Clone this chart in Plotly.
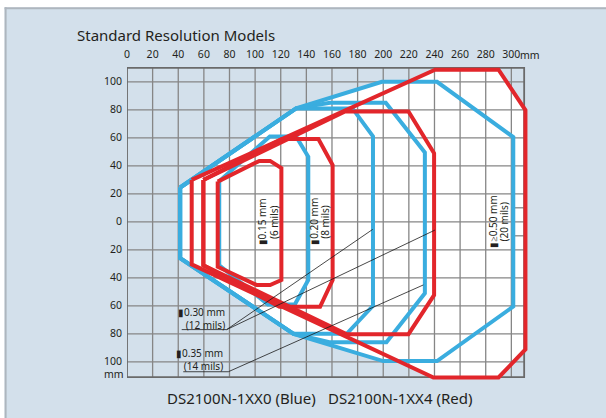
import plotly.graph_objects as go

# ---------------- data (mm) ----------------
X_TICKS = list(range(0, 301, 20))
X_TICK_TEXT = [str(v) for v in X_TICKS]
Y_TICKS = list(range(-100, 101, 20))
Y_TICK_TEXT = [str(abs(v)) for v in Y_TICKS]
X_MIN, X_MAX = 0, 310
Y_MIN, Y_MAX = -111, 110
EXTRA_GRID_Y = [10, -10]          # short grid pieces in the 300-310 column

# Blue: DS2100N-1XX0
B20_X = [72, 111.5, 132, 141.5, 141.5, 131, 110, 72, 72]
B20_Y = [29, 61, 61, 46.5, -41.5, -59, -59, -31, 29]
B30_X = [41.5, 132, 176, 192, 192, 171.5, 130, 41.5, 41.5]
B30_Y = [24.5, 81, 81, 61, -60, -80, -80, -26, 24.5]
B35_X = [41.5, 132, 158.5, 202, 232.5, 232.5, 202.5, 158, 130, 41.5, 41.5]
B35_Y = [24.5, 81, 85, 85, 49.5, -51, -86, -86, -80, -26, 24.5]
B50_X = [41.5, 132, 199, 242, 301.5, 301.5, 242, 200, 130, 41.5, 41.5]
B50_Y = [24.5, 81, 100, 100, 60.5, -60.5, -99.5, -99.5, -80, -26, 24.5]

# Red: DS2100N-1XX4
R15_X = [70.8, 103.3, 111.7, 120.5, 120.5, 111.7, 101.3, 70.8, 70.8]
R15_Y = [28.7, 43.5, 43.5, 38.3, -41.6, -45.2, -45.2, -32.1, 28.7]
R20_X = [59.6, 121, 149.4, 160.5, 160.5, 150.7, 119, 59.6, 59.6]
R20_Y = [29.9, 59.2, 59.2, 40.6, -41.6, -60.7, -60.7, -31, 29.9]
R30_X = [59.6, 170.2, 219.7, 239.7, 239.7, 219.7, 171.6, 59.6, 59.6]
R30_Y = [29.9, 78.8, 78.8, 49, -52.4, -80.3, -80.3, -31, 29.9]
R50_X = [50.5, 240.5, 290, 311, 311, 290, 239.2, 50.5, 50.5]
R50_Y = [29.9, 108.6, 108.6, 79.8, -91.2, -111.2, -111.2, -30.4, 29.9]

BLUE_SERIES = [(B20_X, B20_Y), (B30_X, B30_Y), (B35_X, B35_Y), (B50_X, B50_Y)]
RED_SERIES = [(R15_X, R15_Y), (R20_X, R20_Y), (R30_X, R30_Y), (R50_X, R50_Y)]

# rotated labels: (x line1, x line2, y, line1, line2)
ROT_LABELS = [
    (105.1, 114.2, 0, "▮0.15 mm", "(6 mils)"),
    (146.0, 154.6, 0, "▮0.20 mm", "(8 mils)"),
    (285.7, 294.0, 0, "▮≥0.50 mm", "(20 mils)"),
]
# horizontal labels with underline and leader lines
H_LABELS = [
    dict(x=77.8, y=-69.0, t1="▮0.30 mm", t2="(12 mils)",
         ux0=42.7, ux1=77.8, uy=-77.0,
         targets=[(191.8, -5.4), (240.4, -5.9)]),
    dict(x=76.5, y=-98.1, t1="▮0.35 mm", t2="(14 mils)",
         ux0=43.9, ux1=79.1, uy=-107.1,
         targets=[(231.3, -45.1)]),
]

TITLE = "Standard Resolution Models"
LEGEND_BLUE = "DS2100N-1XX0 (Blue)"
LEGEND_RED = "DS2100N-1XX4 (Red)"

# ---------------- style ----------------
W, H = 606, 418
ML, MR, MT, MB = 127, 78, 65, 38
PW, PH = W - ML - MR, H - MT - MB
BG = "#d3e0eb"
BLUE = "#3aaddf"
RED = "#e2262b"
GRID = "#868686"
FRAME = "#6a6a6a"
TXT = "#231f20"
FONT = "Noto Sans"

def px2xp(px):
    return (px - ML) / PW

def py2yp(py):
    return (MT + PH - py) / PH

fig = go.Figure()

# white fill of the outer envelopes
for xs, ys in [(B50_X, B50_Y), (R50_X, R50_Y)]:
    fig.add_trace(go.Scatter(x=xs, y=ys, mode="lines", fill="toself",
                             fillcolor="white", line=dict(width=0),
                             hoverinfo="skip", showlegend=False))

# grid
gx, gy = [], []
for v in X_TICKS[1:]:
    gx += [v, v, None]
    gy += [Y_MIN, Y_MAX, None]
for v in Y_TICKS:
    gx += [X_MIN, X_MAX, None]
    gy += [v, v, None]
for v in EXTRA_GRID_Y:
    gx += [X_TICKS[-1], X_MAX, None]
    gy += [v, v, None]
fig.add_trace(go.Scatter(x=gx, y=gy, mode="lines",
                         line=dict(color=GRID, width=1.3),
                         hoverinfo="skip", showlegend=False))
# frame
fig.add_trace(go.Scatter(x=[X_MIN, X_MAX, X_MAX, X_MIN, X_MIN],
                         y=[Y_MIN, Y_MIN, Y_MAX, Y_MAX, Y_MIN], mode="lines",
                         line=dict(color=FRAME, width=1.8),
                         hoverinfo="skip", showlegend=False))

for xs, ys in BLUE_SERIES:
    fig.add_trace(go.Scatter(x=xs, y=ys, mode="lines",
                             line=dict(color=BLUE, width=4),
                             hoverinfo="skip", showlegend=False))
for xs, ys in RED_SERIES:
    fig.add_trace(go.Scatter(x=xs, y=ys, mode="lines",
                             line=dict(color=RED, width=4),
                             hoverinfo="skip", showlegend=False))

# underline + leaders
for lab in H_LABELS:
    lx, ly = [lab["ux0"], lab["ux1"], None], [lab["uy"], lab["uy"], None]
    for tx, ty in lab["targets"]:
        lx += [lab["ux1"], tx, None]
        ly += [lab["uy"], ty, None]
    fig.add_trace(go.Scatter(x=lx, y=ly, mode="lines",
                             line=dict(color="#1a1a1a", width=0.8),
                             hoverinfo="skip", showlegend=False))

annotations = []
for x1, x2, y, t1, t2 in ROT_LABELS:
    for xx, tt in [(x1, t1), (x2, t2)]:
        annotations.append(dict(x=xx, y=y, xref="x", yref="y", text=tt,
                                textangle=-90, showarrow=False,
                                font=dict(family=FONT, size=10, color=TXT),
                                xanchor="center", yanchor="middle"))
for lab in H_LABELS:
    annotations.append(dict(x=lab["x"], y=lab["y"], xref="x", yref="y",
                            text=lab["t1"] + "<br>" + lab["t2"], align="right",
                            showarrow=False, xanchor="right", yanchor="middle",
                            font=dict(family=FONT, size=10, color=TXT)))

annotations += [
    dict(x=px2xp(75), y=py2yp(35), xref="paper", yref="paper", text=TITLE,
         showarrow=False, xanchor="left", yanchor="middle",
         font=dict(family=FONT, size=15, color=TXT)),
    dict(x=px2xp(165), y=py2yp(398), xref="paper", yref="paper", text=LEGEND_BLUE,
         showarrow=False, xanchor="left", yanchor="middle",
         font=dict(family=FONT, size=15, color=TXT)),
    dict(x=px2xp(326), y=py2yp(398), xref="paper", yref="paper", text=LEGEND_RED,
         showarrow=False, xanchor="left", yanchor="middle",
         font=dict(family=FONT, size=15, color=TXT)),
    dict(x=px2xp(518), y=py2yp(55), xref="paper", yref="paper", text="mm",
         showarrow=False, xanchor="left", yanchor="middle",
         font=dict(family=FONT, size=10.5, color=TXT)),
    dict(x=px2xp(114), y=py2yp(373.5), xref="paper", yref="paper", text="mm",
         showarrow=False, xanchor="center", yanchor="middle",
         font=dict(family=FONT, size=10.5, color=TXT)),
]

shapes = [
    dict(type="rect", xref="paper", yref="paper", layer="above",
         x0=px2xp(-5), x1=px2xp(W + 5), y0=py2yp(7.5), y1=py2yp(-5),
         fillcolor="white", line=dict(width=0)),
    dict(type="rect", xref="paper", yref="paper", layer="above",
         x0=px2xp(-5), x1=px2xp(4.6), y0=py2yp(H + 5), y1=py2yp(-5),
         fillcolor="white", line=dict(width=0)),
    dict(type="line", xref="paper", yref="paper", layer="above",
         x0=px2xp(4.6), x1=px2xp(W + 5), y0=py2yp(8.3), y1=py2yp(8.3),
         line=dict(color="#aeb6be", width=2)),
    dict(type="line", xref="paper", yref="paper", layer="above",
         x0=px2xp(5.6), x1=px2xp(5.6), y0=py2yp(H + 5), y1=py2yp(7.3),
         line=dict(color="#aeb6be", width=2)),
]

fig.update_layout(
    width=W, height=H,
    margin=dict(l=ML, r=MR, t=MT, b=MB, pad=0),
    paper_bgcolor=BG, plot_bgcolor=BG,
    showlegend=False,
    annotations=annotations,
    shapes=shapes,
    font=dict(family=FONT, color=TXT),
)
fig.update_xaxes(range=[X_MIN, 313], side="top", showgrid=False, zeroline=False,
                 showline=False, tickmode="array", tickvals=X_TICKS,
                 ticktext=X_TICK_TEXT, ticks="", ticklabelstandoff=4,
                 tickfont=dict(family=FONT, size=10.5, color=TXT), fixedrange=True)
fig.update_yaxes(range=[-113, 112], showgrid=False, zeroline=False,
                 showline=False, tickmode="array", tickvals=Y_TICKS,
                 ticktext=Y_TICK_TEXT, ticks="", ticklabelstandoff=4,
                 tickfont=dict(family=FONT, size=10.5, color=TXT), fixedrange=True)

fig.write_html(
    "out.html",
    config={"displayModeBar": False},
    post_script="document.body.style.margin='0';document.body.style.padding='0';"
                "document.body.style.overflow='hidden';",
)
